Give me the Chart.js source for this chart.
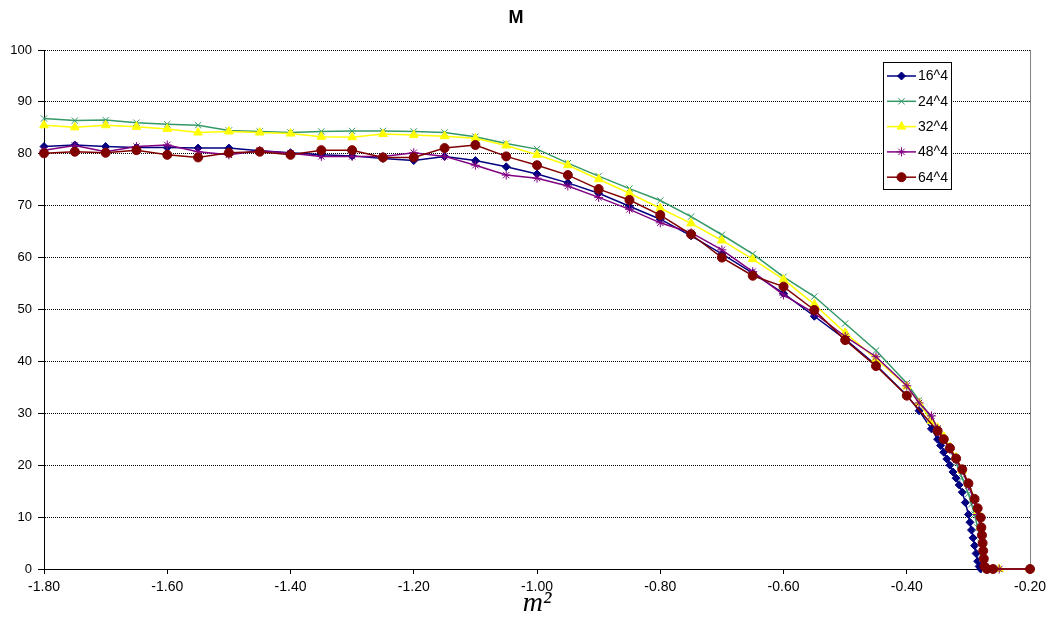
<!DOCTYPE html>
<html>
<head>
<meta charset="utf-8">
<script src="https://cdn.jsdelivr.net/npm/chart.js@4/dist/chart.umd.min.js"></script>
<style>
  body { margin: 0; background: #fff; }
  #wrap { width: 1051px; height: 620px; }
</style>
</head>
<body>
<div id="wrap"><canvas id="grafico"></canvas></div>
<script>
// m^2 grid common to all lattices
const xMain = [-1.80, -1.75, -1.70, -1.65, -1.60, -1.55, -1.50, -1.45, -1.40, -1.35,
               -1.30, -1.25, -1.20, -1.15, -1.10, -1.05, -1.00, -0.95, -0.90, -0.85,
               -0.80, -0.75, -0.70, -0.65, -0.60, -0.55, -0.50, -0.45, -0.40];

const m16 = [81.4, 81.7, 81.4, 81.2, 81.2, 81.1, 81.1, 80.6, 80.2, 79.8,
             79.6, 79.1, 78.7, 79.5, 78.7, 77.5, 76.1, 74.4, 72.4, 69.9,
             67.4, 64.2, 60.7, 57.0, 53.1, 48.7, 44.3, 39.3, 33.5];
const m24 = [86.8, 86.4, 86.5, 86.0, 85.7, 85.5, 84.5, 84.3, 84.1, 84.3,
             84.4, 84.4, 84.3, 84.1, 83.3, 82.0, 80.9, 78.2, 75.7, 73.3,
             71.0, 67.9, 64.4, 60.7, 56.3, 52.5, 47.3, 42.1, 35.8];
const m32 = [85.5, 85.1, 85.5, 85.2, 84.8, 84.1, 84.3, 84.1, 83.9, 83.3,
             83.2, 83.8, 83.6, 83.4, 83.0, 81.6, 79.8, 77.8, 75.1, 72.4,
             69.5, 66.6, 63.3, 59.7, 55.8, 51.0, 45.5, 40.5, 35.2];
const m48 = [80.7, 81.6, 80.4, 81.4, 81.7, 80.4, 79.8, 80.6, 80.1, 79.5,
             79.5, 79.5, 80.2, 79.5, 77.8, 75.9, 75.3, 73.8, 71.6, 69.3,
             66.7, 64.8, 61.5, 57.3, 52.8, 49.3, 44.8, 40.9, 35.3];
const m64 = [80.1, 80.4, 80.2, 80.7, 79.8, 79.3, 80.2, 80.4, 79.8, 80.7,
             80.7, 79.3, 79.3, 81.1, 81.7, 79.5, 77.8, 75.9, 73.2, 71.1,
             68.2, 64.5, 60.0, 56.5, 54.4, 49.9, 44.1, 39.1, 33.4];

// finer steps near the transition
const xTail16 = [-0.38, -0.36, -0.35, -0.345, -0.34, -0.335, -0.33, -0.325, -0.32, -0.315,
                 -0.31, -0.305, -0.30, -0.2975, -0.295, -0.2925, -0.29, -0.2875, -0.285,
                 -0.2825, -0.28, -0.27, -0.20];
const mTail16 = [30.5, 27.0, 25.0, 23.8, 22.5, 21.2, 20.0, 18.7, 17.5, 16.2,
                 14.8, 12.8, 10.5, 9.0, 7.5, 6.0, 4.5, 3.0, 1.5,
                 0.5, 0, 0, 0];
const xTail24 = [-0.38, -0.36, -0.35, -0.34, -0.33, -0.32, -0.31, -0.30, -0.295, -0.29,
                 -0.285, -0.28, -0.2775, -0.275, -0.27, -0.26, -0.20];
const mTail24 = [32.5, 29.0, 27.0, 25.0, 23.0, 20.5, 17.5, 14.5, 12.5, 10.5,
                 8.0, 5.0, 3.0, 1.0, 0, 0, 0];
const xTail32 = [-0.38, -0.36, -0.35, -0.34, -0.33, -0.32, -0.31, -0.30, -0.29, -0.285,
                 -0.28, -0.2775, -0.275, -0.27, -0.25, -0.20];
const mTail32 = [32.0, 28.5, 27.2, 25.5, 23.5, 21.5, 19.0, 16.5, 13.5, 11.0,
                 8.0, 5.0, 2.0, 0, 0, 0];
const xTail48 = [-0.38, -0.36, -0.35, -0.34, -0.33, -0.32, -0.31, -0.30, -0.29, -0.285,
                 -0.28, -0.2775, -0.275, -0.27, -0.25, -0.20];
const mTail48 = [32.0, 29.5, 27.0, 25.0, 23.0, 21.0, 19.0, 16.0, 13.0, 10.5,
                 7.5, 4.5, 1.5, 0, 0, 0];
const xTail64 = [-0.35, -0.34, -0.33, -0.32, -0.31, -0.30, -0.29, -0.285, -0.28, -0.279,
                 -0.278, -0.277, -0.276, -0.275, -0.274, -0.27, -0.26, -0.20];
const mTail64 = [26.6, 25.0, 23.3, 21.3, 19.2, 16.5, 13.5, 11.7, 9.9, 8.0,
                 6.5, 5.0, 3.5, 2.0, 0.5, 0, 0, 0];

const series = ['16^4', '24^4', '32^4', '48^4', '64^4'];
const xTicks = [-1.80, -1.60, -1.40, -1.20, -1.00, -0.80, -0.60, -0.40, -0.20];

function pontos(xs, ys, xt, yt) {
    let lista = [];
    for (let i = 0; i < xs.length; i++) lista.push({ x: xs[i], y: ys[i] });
    for (let i = 0; i < xt.length; i++) lista.push({ x: xt[i], y: yt[i] });
    return lista;
}

const estilos = [
    { cor: '#000080', ponto: 'rectRot', raio: 4, fundo: '#000080' },
    { cor: '#339966', ponto: 'crossRot', raio: 4.5, fundo: '#339966' },
    { cor: '#FFFF00', ponto: 'triangle', raio: 5, fundo: '#FFFF00' },
    { cor: '#800080', ponto: 'star', raio: 4.5, fundo: '#800080' },
    { cor: '#800000', ponto: 'circle', raio: 4.5, fundo: '#800000' }
];

const valores = [
    pontos(xMain, m16, xTail16, mTail16),
    pontos(xMain, m24, xTail24, mTail24),
    pontos(xMain, m32, xTail32, mTail32),
    pontos(xMain, m48, xTail48, mTail48),
    pontos(xMain, m64, xTail64, mTail64)
];

const datasets = series.map(function (nome, i) {
    return {
        label: nome,
        data: valores[i],
        showLine: true,
        clip: false,
        borderColor: estilos[i].cor,
        backgroundColor: estilos[i].fundo,
        borderWidth: 1.5,
        pointStyle: estilos[i].ponto,
        pointRadius: estilos[i].raio,
        pointBorderWidth: 1,
        pointHoverRadius: estilos[i].raio,
        order: series.length - 1 - i
    };
});

// legend drawn inside the plot, like the spreadsheet one
const legendaDentro = {
    id: 'legendaDentro',
    afterDatasetsDraw(chart) {
        const ctx = chart.ctx;
        const x0 = 883, y0 = 62, w = 68, h = 127;
        ctx.save();
        ctx.fillStyle = '#fff';
        ctx.fillRect(x0, y0, w, h);
        ctx.strokeStyle = '#000';
        ctx.lineWidth = 1;
        ctx.strokeRect(x0 + 0.5, y0 + 0.5, w, h);
        chart.data.datasets.forEach(function (ds, i) {
            const y = 76 + i * 25.3;
            ctx.strokeStyle = ds.borderColor;
            ctx.lineWidth = 1.5;
            ctx.beginPath();
            ctx.moveTo(887, y);
            ctx.lineTo(916, y);
            ctx.stroke();
            ctx.fillStyle = ds.backgroundColor;
            ctx.lineWidth = 1;
            Chart.helpers.drawPoint(ctx, { pointStyle: ds.pointStyle, radius: ds.pointRadius, rotation: 0, borderWidth: 1 }, 901.5, y);
            ctx.fillStyle = '#000';
            ctx.font = '14px "Liberation Sans"';
            ctx.textBaseline = 'middle';
            ctx.textAlign = 'left';
            ctx.fillText(ds.label, 918, y + 0.5);
        });
        ctx.restore();
    },
    beforeDatasetsDraw(chart) {
        const a = chart.chartArea;
        const ctx = chart.ctx;
        ctx.save();
        ctx.strokeStyle = '#808080';
        ctx.lineWidth = 1;
        ctx.beginPath();
        ctx.moveTo(a.right + 0.5, a.top);
        ctx.lineTo(a.right + 0.5, a.bottom);
        ctx.stroke();
        ctx.restore();
    }
};

Chart.defaults.font.family = '"Liberation Sans", Arial, sans-serif';
Chart.defaults.color = '#000';

new Chart(document.getElementById('grafico'), {
    type: 'scatter',
    data: { datasets: datasets },
    options: {
        responsive: true,
        maintainAspectRatio: false,
        animation: false,
        layout: { padding: { left: 0, right: 19, top: 0, bottom: 0 } },
        plugins: {
            legend: { display: false },
            tooltip: { enabled: false },
            title: {
                display: true,
                text: 'M',
                font: { size: 18, weight: 'bold', lineHeight: 1.2 },
                padding: { top: 7, bottom: 21.4 }
            }
        },
        scales: {
            x: {
                type: 'linear',
                min: -1.8,
                max: -0.2,
                afterFit: function (scale) { scale.height = 51; },
                afterBuildTicks: function (scale) {
                    scale.ticks = xTicks.map(function (v) { return { value: v }; });
                },
                ticks: {
                    font: { size: 14 },
                    padding: 5,
                    maxRotation: 0,
                    callback: function (v) { return Number(v).toFixed(2); }
                },
                grid: { drawOnChartArea: false, drawTicks: true, tickLength: 5, tickColor: '#000', color: '#000' },
                border: { display: true, color: '#000', width: 1 },
                title: {
                    display: true,
                    text: 'm²',
                    align: 'center',
                    font: { family: '"Liberation Serif", serif', size: 28, style: 'italic' },
                    padding: { top: 0, bottom: 0 }
                }
            },
            y: {
                min: 0,
                max: 100,
                afterFit: function (scale) { scale.width = 44; },
                ticks: { stepSize: 10, font: { size: 13 }, padding: 6 },
                grid: { color: '#000', lineWidth: 1, tickLength: 6, tickColor: '#000', tickBorderDash: [] },
                border: { display: true, color: '#000', width: 1, dash: [1, 1] }
            }
        }
    },
    plugins: [legendaDentro]
});
</script>
</body>
</html>
